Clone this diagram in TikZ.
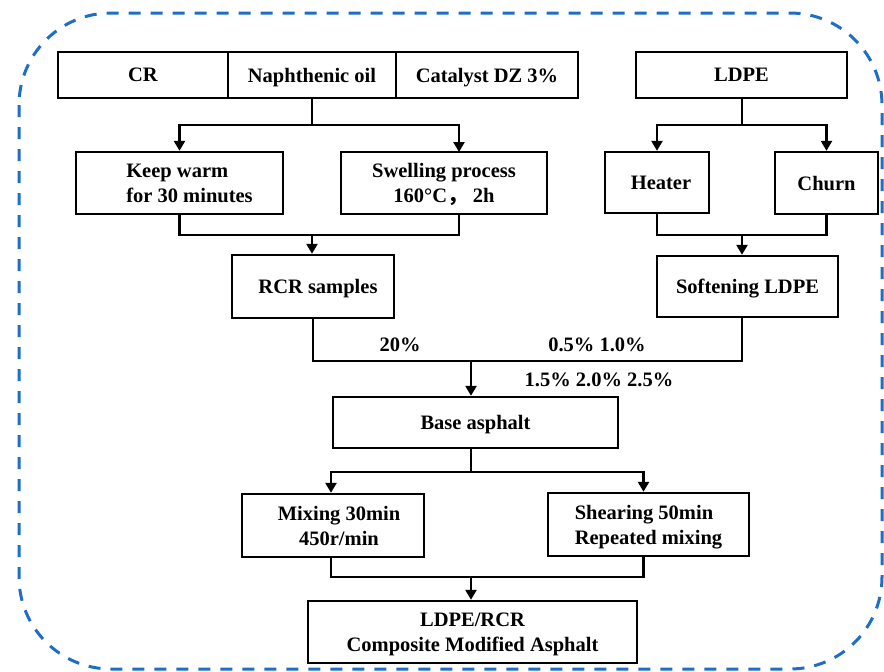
\documentclass[tikz,border=0pt]{standalone}
\usepackage{fontspec}
\setmainfont{Liberation Serif}
\newfontfamily\cjk{Noto Sans CJK SC}
\usetikzlibrary{arrows.meta,calc}
\definecolor{frameblue}{RGB}{30,110,200}
\begin{document}
\begin{tikzpicture}[x=1pt,y=-1pt,
  box/.style={draw, line width=2.4pt, inner sep=0pt, align=center, text depth=0pt,
    font=\bfseries\fontsize{20.5}{25}\selectfont},
  lbl/.style={inner sep=0pt, font=\bfseries\fontsize{20.5}{25}\selectfont},
  ln/.style={line width=2.4pt},
  arr/.style={line width=2.4pt, -{Triangle[width=11pt,length=10pt]}},
  frame/.style={draw=frameblue, line width=3pt, dash pattern=on 12pt off 10pt, rounded corners=92pt}]
\useasboundingbox (0,0) rectangle (884,672);
\draw[frame] (19,13) rectangle (882,669);

% top row
\node[box, minimum width=170pt, minimum height=46pt] (cr)  at (143,75) {CR};
\node[box, minimum width=168pt, minimum height=46pt] (nap) at (312,75) {Naphthenic oil};
\node[box, minimum width=182pt, minimum height=46pt] (cat) at (487,75) {Catalyst DZ 3\%};
\node[box, minimum width=211pt, minimum height=46pt] (ldpe) at (741.5,75) {LDPE};

% second row
\node[box, align=left, minimum width=207pt, minimum height=62pt] (keep) at (179.5,183) {\hspace*{20pt}Keep warm\\\hspace*{20pt}for 30 minutes};
\node[box, minimum width=206pt, minimum height=62pt] (swell) at (444,183) {Swelling process\\160°C{\cjk ，}\ 2h};
\node[box, minimum width=104pt, minimum height=61pt] (heater) at (657,182.5) {\hspace*{8pt}Heater};
\node[box, minimum width=103pt, minimum height=62pt] (churn) at (826.5,183) {Churn};

% third row
\node[box, minimum width=162pt, minimum height=63pt] (rcr) at (313,286.5) {\hspace*{10pt}RCR samples};
\node[box, minimum width=181pt, minimum height=61pt] (soft) at (747.5,286.5) {Softening LDPE};

% base
\node[box, minimum width=285pt, minimum height=51pt] (base) at (475.5,422.5) {Base asphalt};
\node[box, minimum width=182pt, minimum height=63pt] (mix) at (333,525.5) {\hspace*{12pt}Mixing 30min\\\hspace*{12pt}450r/min};
\node[box, align=left, minimum width=201pt, minimum height=63pt] (shear) at (648.5,524.5) {Shearing 50min\\Repeated mixing};
\node[box, minimum width=329pt, minimum height=62pt] (final) at (472.5,632) {LDPE/RCR\\Composite Modified Asphalt};

% labels
\node[lbl] (l20) at (400,345) {20\%};
\node[lbl] (l05) at (597,345) {0.5\% 1.0\%};
\node[lbl] (l15) at (599,380) {1.5\% 2.0\% 2.5\%};

% connectors: left branch
\coordinate (j1) at (312,125);
\coordinate (swtop) at (459,152);
\coordinate (swbot) at (459,214);
\coordinate (m1) at (312,235);
\draw[ln] (nap.south) -- (j1);
\draw[arr] (j1) -| (keep.north);
\draw[arr] (j1) -| (swtop);
\draw[ln] (keep.south) |- (m1) -| (swbot);
\draw[arr] (m1) -- (m1 |- rcr.north);

% right branch
\coordinate (j2) at (742,125);
\coordinate (m2) at (742,235);
\draw[ln] (j2 |- ldpe.south) -- (j2);
\draw[arr] (j2) -| (heater.north);
\draw[arr] (j2) -| (churn.north);
\draw[ln] (heater.south) |- (m2) -| (churn.south);
\draw[arr] (m2) -- (m2 |- soft.north);

% merge to base asphalt
\coordinate (m3) at (471,361);
\coordinate (softbot) at (742,317);
\draw[ln] (rcr.south) |- (m3) -| (softbot);
\draw[arr] (m3) -- (m3 |- base.north);

% base to processes
\coordinate (j3) at (471,472);
\draw[ln] (j3 |- base.south) -- (j3);
\draw[arr] (j3) -| ($(mix.north)+(-2,0)$);
\draw[arr] (j3) -| ($(shear.north)+(-5,0)$);
\coordinate (m4) at (471,577);
\draw[ln] ($(mix.south)+(-2,0)$) |- (m4) -| ($(shear.south)+(-5,0)$);
\draw[arr] (m4) -- (m4 |- final.north);
\end{tikzpicture}
\end{document}
